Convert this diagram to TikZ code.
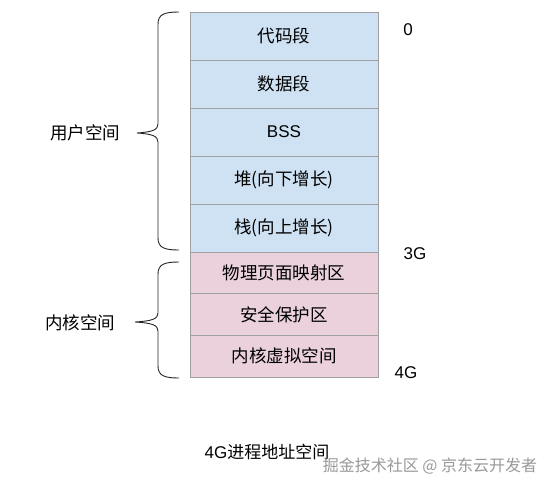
\documentclass[tikz,border=0pt]{standalone}
\usepackage{fontspec}
\setmainfont{Liberation Sans}
\newfontfamily\cjk{Noto Sans CJK SC}
\definecolor{ublue}{HTML}{CFE2F3}
\definecolor{kpink}{HTML}{EAD1DC}
\definecolor{lgray}{HTML}{A0A0A0}
\begin{document}
\begin{tikzpicture}[x=1pt,y=-1pt,
  seg/.style={draw=lgray,line width=0.8pt,minimum width=188pt,inner sep=0pt,outer sep=0pt,anchor=north west,font=\cjk\fontsize{17.5}{20}\selectfont},
  useg/.style={seg,fill=ublue,minimum height=48pt},
  kseg/.style={seg,fill=kpink,minimum height=41.67pt},
  lbl/.style={font=\fontsize{17}{20}\selectfont,inner sep=0pt},
  clbl/.style={font=\cjk\fontsize{17.5}{20}\selectfont,inner sep=0pt},
  brace/.style={draw=black!85,line width=0.9pt}]
\useasboundingbox (0,0) rectangle (551,490);
\fill[white] (0,0) rectangle (551,490);
\node[useg] (code) at (190,12) {代码段};
\node[useg] (data) at (code.south west) {数据段};
\node[useg,font=\fontsize{17}{20}\selectfont] (bss) at (data.south west) {BSS};
\node[useg] (heap) at (bss.south west) {堆(向下增长)};
\node[useg] (stack) at (heap.south west) {栈(向上增长)};
\node[kseg] (phys) at (stack.south west) {物理页面映射区};
\node[kseg] (safe) at (phys.south west) {安全保护区};
\node[kseg] (kvirt) at (safe.south west) {内核虚拟空间};
% labels
\node[lbl] (l0) at (408,30) {0};
\node[lbl] (l3) at (415,254) {3G};
\node[lbl] (l4) at (406,373) {4G};
\node[clbl] (user) at (85,133) {用户空间};
\node[clbl] (kern) at (80,323) {内核空间};
\node[lbl] (title) at (267,452) {4G{\cjk 进程地址空间}};
\node[clbl,text=black!40,font=\cjk\fontsize{16}{18}\selectfont] (wm) at (430,466) {掘金技术社区 @ 京东云开发者};
% braces
\coordinate (ut) at (179,12);
\coordinate (ub) at (179,250);
\draw[brace] (ut) .. controls (165,12) and (158,14) .. (158,24)
  -- (158,124) .. controls (158,130) and (152,132) .. (137,133)
  .. controls (152,134) and (158,136) .. (158,142)
  -- (158,238) .. controls (158,248) and (165,250) .. (ub);
\coordinate (kt) at (179,262);
\coordinate (kb) at (179,378);
\draw[brace] (kt) .. controls (165,262) and (158,264) .. (158,274)
  -- (158,313) .. controls (158,319) and (152,321) .. (135,322)
  .. controls (152,323) and (158,325) .. (158,331)
  -- (158,366) .. controls (158,376) and (165,378) .. (kb);
\end{tikzpicture}
\end{document}
